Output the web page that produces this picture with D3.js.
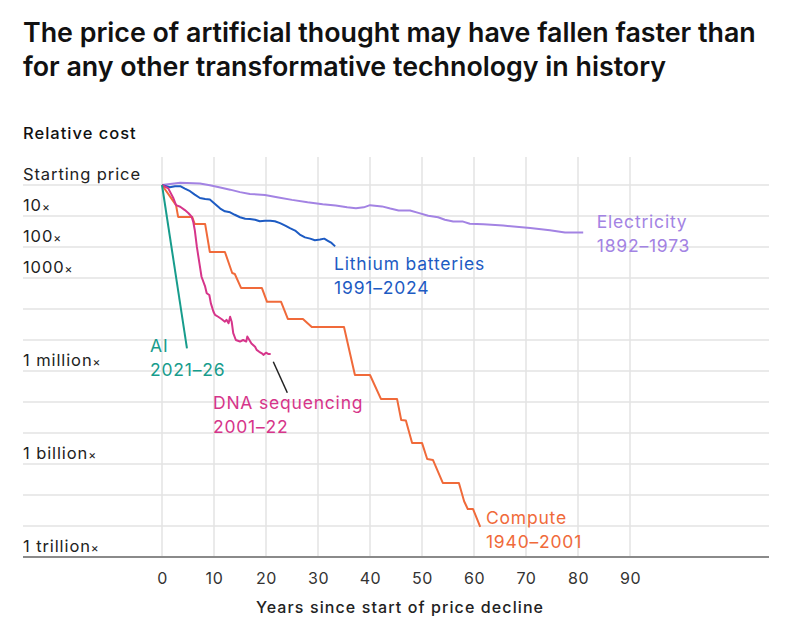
<!DOCTYPE html>
<html>
<head>
<meta charset="utf-8">
<script src="https://cdn.jsdelivr.net/npm/d3@7"></script>
<style>
  body { margin: 0; background: #fff; }
  svg { font-family: Inter, "Noto Sans", sans-serif; }
</style>
</head>
<body>
<div id="chart"></div>
<script>
// data: [years since start, decades of price decline (log10 of the fall)]
const electricity = [[0,0],[3.5,-0.07],[7.3,-0.05],[9.2,0.01],[11.2,0.08],[13.1,0.15],[15,0.23],[16.9,0.29],[19.8,0.32],[22.4,0.4],[25,0.48],[28,0.56],[30.9,0.62],[33.4,0.66],[35.6,0.72],[37.3,0.75],[38.8,0.72],[40,0.65],[42.3,0.69],[43.9,0.76],[45.5,0.82],[47.7,0.82],[49.3,0.9],[51.2,0.99],[53.1,1.04],[54.4,1.12],[56,1.18],[57.9,1.18],[59.2,1.25],[61.8,1.27],[65.6,1.31],[70.8,1.39],[74.6,1.46],[77.5,1.53],[81,1.53]];
const lithium = [[0,0],[1.5,0.07],[2.5,0.04],[3.5,0.04],[4.4,0.12],[5.4,0.2],[6.3,0.31],[7.3,0.42],[8.3,0.45],[9.2,0.47],[10.2,0.61],[11.2,0.76],[12.1,0.85],[13.1,0.88],[14,0.96],[15,1.04],[16,1.09],[16.9,1.1],[17.9,1.12],[18.8,1.17],[19.8,1.15],[20.8,1.15],[21.7,1.17],[22.7,1.23],[23.7,1.31],[24.6,1.39],[25.6,1.47],[26.5,1.6],[27.5,1.69],[28.5,1.73],[29.4,1.78],[30.4,1.76],[31.2,1.73],[31.9,1.8],[32.6,1.87],[33.3,1.98]];
const compute = [[0,0],[2.7,0.65],[3.1,1.03],[5.8,1.03],[6.3,1.26],[8.3,1.26],[9.2,2.16],[12.1,2.16],[13.5,2.84],[14,2.87],[15.2,3.32],[19.2,3.32],[20.2,3.77],[22.9,3.77],[24.2,4.32],[27.1,4.32],[28.8,4.58],[35,4.58],[37.1,6.13],[40,6.13],[42.1,6.9],[45.2,6.9],[46,7.58],[46.9,7.6],[48.1,8.32],[50,8.32],[51,8.84],[52.1,8.87],[54,9.61],[57.1,9.61],[58.1,10.2],[58.8,10.45],[59.8,10.45],[61.2,11.03]];
const dna = [[0,0],[1.2,0.11],[2.2,0.43],[2.7,0.65],[3.5,0.7],[4.4,0.81],[5.1,0.91],[5.7,1.02],[6,1.18],[6.3,1.45],[6.7,1.99],[7.2,2.53],[7.6,2.96],[8.3,3.28],[8.6,3.49],[9.1,3.55],[9.4,3.82],[9.9,4.09],[10.2,4.19],[10.8,4.25],[11.5,4.33],[12.1,4.41],[12.4,4.35],[12.8,4.46],[13.1,4.25],[13.4,4.41],[13.7,4.78],[14.2,5],[15,5.05],[15.6,5],[16.2,5.05],[16.4,4.89],[16.8,5],[17.2,5.11],[17.9,5.22],[18.2,5.32],[18.7,5.38],[19.2,5.43],[19.5,5.48],[20,5.41],[20.4,5.45],[20.9,5.45]];
const ai = [[0,0],[4.8,5.27]];

const xTicks = [0,10,20,30,40,50,60,70,80,90];
const yLabels = [
  {v: 1, text: 'Starting price', x: ''},
  {v: 1e1, text: '10', x: '×'},
  {v: 1e2, text: '100', x: '×'},
  {v: 1e3, text: '1000', x: '×'},
  {v: 1e6, text: '1 million', x: '×'},
  {v: 1e9, text: '1 billion', x: '×'},
  {v: 1e12, text: '1 trillion', x: '×'}
];

const series = [
  {name: 'Electricity', years: '1892–1973', data: electricity, color: '#a383e3', label: [83.6, 1.4]},
  {name: 'Lithium batteries', years: '1991–2024', data: lithium, color: '#1d5bc3', label: [33.1, 2.75]},
  {name: 'Compute', years: '1940–2001', data: compute, color: '#f06a3a', label: [62.3, 10.95]},
  {name: 'DNA sequencing', years: '2001–22', data: dna, color: '#d6358a', label: [9.8, 7.24]},
  {name: 'AI', years: '2021–26', data: ai, color: '#179c8c', label: [-2.3, 5.4]}
];

const width = 800;
const height = 635;
const left = 23, right = 769;

const x = d3.scaleLinear().domain([0, 90]).range([162, 630]);
const y = d3.scaleLog().domain([1, 1e12]).range([185, 557]);
const yd = e => y(Math.pow(10, e));

const svg = d3.select('#chart')
  .append('svg')
  .attr('width', width)
  .attr('height', height);

// title
svg.append('text')
  .attr('x', left).attr('y', 42)
  .attr('font-size', 26.8).attr('font-weight', 600).attr('fill', '#111')
  .text('The price of artificial thought may have fallen faster than');
svg.append('text')
  .attr('x', left).attr('y', 76)
  .attr('font-size', 26.8).attr('font-weight', 600).attr('fill', '#111')
  .text('for any other transformative technology in history');

svg.append('text')
  .attr('x', left).attr('y', 139)
  .attr('font-size', 16.5).attr('font-weight', 500).attr('fill', '#111')
  .attr('letter-spacing', 1)
  .text('Relative cost');

// grid
svg.append('g')
  .selectAll('line')
  .data(xTicks)
  .enter()
  .append('line')
  .attr('x1', d => x(d)).attr('x2', d => x(d))
  .attr('y1', 157).attr('y2', y(1e12))
  .attr('stroke', '#e3e3e3').attr('stroke-width', 1.5);

svg.append('g')
  .selectAll('line')
  .data(d3.range(0, 12))
  .enter()
  .append('line')
  .attr('x1', left).attr('x2', right)
  .attr('y1', d => yd(d)).attr('y2', d => yd(d))
  .attr('stroke', '#e3e3e3').attr('stroke-width', 1.5);

// y labels
const yl = svg.append('g')
  .selectAll('text')
  .data(yLabels)
  .enter()
  .append('text')
  .attr('x', left)
  .attr('y', d => y(d.v) - 5)
  .attr('font-size', 16.5).attr('fill', '#222')
  .attr('letter-spacing', 0.9);
yl.append('tspan').text(d => d.text);
yl.append('tspan').attr('font-size', 12).attr('dx', 0).text(d => d.x);

// x axis
const xAxis = svg.append('g')
  .attr('transform', `translate(0, ${y(1e12)})`)
  .call(d3.axisBottom(x).tickValues(xTicks).tickSize(0).tickPadding(16));
xAxis.select('.domain').remove();
xAxis.selectAll('text')
  .attr('font-size', 16).attr('fill', '#333')
  .attr('letter-spacing', 0.6)
  .attr('font-family', 'Inter, "Noto Sans", sans-serif');

svg.append('line')
  .attr('x1', left).attr('x2', right)
  .attr('y1', y(1e12)).attr('y2', y(1e12))
  .attr('stroke', '#8a8a8a').attr('stroke-width', 2);

svg.append('text')
  .attr('x', 400).attr('y', 613)
  .attr('text-anchor', 'middle')
  .attr('font-size', 16).attr('font-weight', 500).attr('fill', '#222')
  .attr('letter-spacing', 1.1)
  .text('Years since start of price decline');

// lines
const line = d3.line()
  .x(d => x(d[0]))
  .y(d => yd(d[1]));

svg.append('g')
  .selectAll('path')
  .data(series)
  .enter()
  .append('path')
  .attr('d', d => line(d.data))
  .attr('fill', 'none')
  .attr('stroke', d => d.color)
  .attr('stroke-width', 2)
  .attr('stroke-linejoin', 'round');

// pointer from DNA end to its label
svg.append('line')
  .attr('x1', x(21.4)).attr('y1', yd(5.7))
  .attr('x2', x(24.1)).attr('y2', yd(6.7))
  .attr('stroke', '#222').attr('stroke-width', 1.5);

// series labels
const labels = svg.append('g')
  .selectAll('text')
  .data(series)
  .enter()
  .append('text')
  .attr('x', d => x(d.label[0]))
  .attr('y', d => yd(d.label[1]))
  .attr('font-size', 17.5)
  .attr('letter-spacing', 0.8)
  .attr('fill', d => d.color);
labels.append('tspan').text(d => d.name);
labels.append('tspan')
  .attr('x', d => x(d.label[0]))
  .attr('dy', 24)
  .text(d => d.years);
</script>
</body>
</html>
